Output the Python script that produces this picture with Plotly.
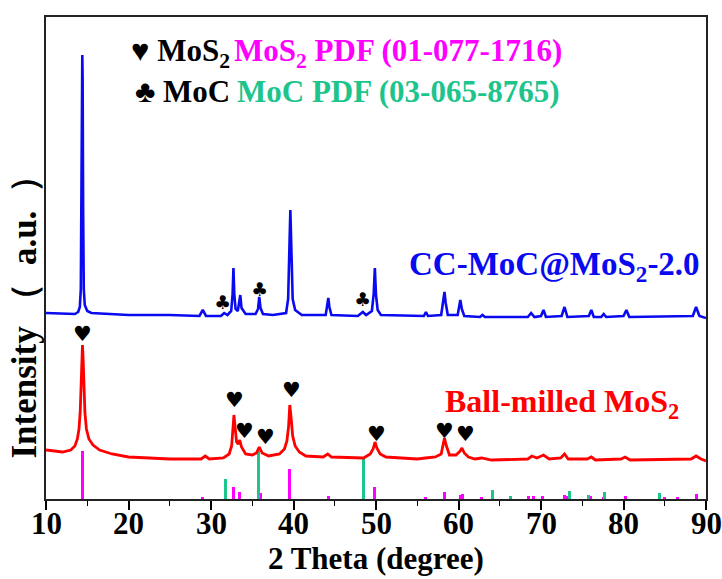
import plotly.graph_objects as go

# ---- XRD pattern of CC-MoC@MoS2-2.0 (2θ in degrees, intensity in a.u.) ----
cc_two_theta = [10.0, 12.0, 13.5, 13.9, 14.1, 14.22, 14.30, 14.36, 14.40, 14.44, 14.50, 14.58, 14.7, 15.0, 15.5,
                20.0, 25.0, 28.6, 29.0, 29.4, 31.2, 31.6, 32.0, 32.45, 32.62, 32.72, 32.82, 32.98, 33.25, 33.45,
                33.55, 33.7, 34.2, 35.4, 35.7, 35.85, 36.0, 36.3, 37.5, 39.1, 39.35, 39.5, 39.62, 39.74, 39.9,
                40.2, 41.0, 43.9, 44.12, 44.22, 44.35, 44.6, 47.8, 48.4, 48.8, 49.5, 49.72, 49.86, 50.0, 50.2,
                50.6, 55.8, 56.05, 56.3, 57.9, 58.18, 58.3, 58.45, 58.7, 59.9, 60.1, 60.22, 60.4, 60.7, 62.6,
                62.9, 63.2, 68.4, 68.8, 69.2, 70.0, 70.3, 70.6, 72.5, 72.85, 73.2, 75.8, 76.1, 76.4, 77.3,
                77.6, 77.9, 80.0, 80.35, 80.7, 88.4, 88.8, 89.2, 90.0]
cc_intensity = [186, 185, 185, 187, 192, 210, 300, 420, 444, 420, 290, 210, 194, 188, 186,
                184, 184, 183, 189, 183, 183, 186, 184, 188, 205, 231, 205, 190, 188, 198,
                204, 191, 185, 185, 190, 202, 191, 185, 184, 186, 200, 250, 289, 250, 200,
                189, 184, 184, 195, 201, 192, 184, 183, 187, 184, 188, 205, 231, 204, 189,
                184, 183, 187, 183, 184, 198, 207, 196, 184, 184, 193, 199, 190, 183, 182,
                184, 182, 182, 186, 182, 183, 189, 182, 183, 192, 182, 183, 189, 182, 182,
                185, 182, 183, 189, 182, 183, 192, 183, 181]

# ---- XRD pattern of ball-milled MoS2 ----
bm_two_theta = [10.0, 12.0, 13.0, 13.5, 13.8, 14.0, 14.15, 14.27, 14.36, 14.42, 14.5, 14.6, 14.72, 14.9, 15.2,
                15.7, 16.5, 18.0, 20.0, 25.0, 28.8, 29.3, 29.8, 31.5, 32.2, 32.5, 32.65, 32.78, 32.92, 33.1,
                33.3, 33.48, 33.7, 34.2, 35.0, 35.5, 35.85, 36.2, 37.0, 38.3, 38.9, 39.2, 39.4, 39.55, 39.7,
                39.9, 40.2, 40.7, 41.5, 43.6, 44.15, 44.6, 48.5, 49.3, 49.65, 49.88, 50.1, 50.5, 51.2, 55.0,
                56.0, 57.2, 57.9, 58.15, 58.3, 58.5, 58.9, 59.7, 60.2, 60.42, 60.7, 61.2, 62.0, 62.8, 64.0,
                68.4, 68.9, 69.5, 70.3, 71.0, 72.4, 72.85, 73.3, 75.6, 76.1, 76.6, 79.7, 80.2, 80.8, 88.2,
                88.8, 89.4, 90.0]
bm_intensity = [49, 47, 49, 53, 60, 70, 88, 118, 148, 154, 140, 110, 86, 70, 60,
                54, 49, 45, 42, 40, 40, 43, 40, 41, 45, 53, 66, 84, 72, 57,
                55, 59, 52, 45, 44, 46, 52, 46, 43, 45, 50, 58, 72, 94, 82,
                63, 53, 47, 43, 42, 45, 42, 41, 45, 50, 57, 51, 45, 42, 40,
                41, 42, 45, 55, 61, 54, 44, 44, 48, 51, 46, 42, 40, 41, 39,
                40, 43, 41, 44, 40, 41, 45, 40, 40, 42, 39, 40, 42, 39, 40,
                43, 40, 38]

# ---- Standard reference patterns (stick positions and relative heights) ----
mos2_pdf_theta = [14.4, 29.0, 32.7, 33.5, 36.0, 39.55, 44.2, 49.8, 56.0, 58.35, 60.2, 60.5, 62.8,
                  68.5, 69.1, 70.2, 72.8, 73.1, 76.0, 77.6, 80.2, 85.0, 86.6, 88.8]
mos2_pdf_int = [48, 2, 12, 7, 6, 30, 3, 12, 2, 7, 4, 5, 2, 3, 3, 3, 4, 3, 3, 2, 3, 2, 2, 5]
moc_pdf_theta = [31.7, 35.75, 48.45, 64.15, 66.3, 73.4, 75.7, 77.7, 84.4]
moc_pdf_int = [20, 48, 42, 9, 3, 8, 4, 7, 6]

# ---- Phase markers over indexed reflections ----
heart_theta = [14.4, 32.8, 34.1, 36.6, 39.8, 50.0, 58.3, 60.8]
heart_level = [165, 99, 68, 62, 109, 65, 68, 65]
club_theta = [31.4, 35.9, 48.4]
club_level = [197, 210, 200]

# ---- Axis ticks ----
x_ticks = [10, 20, 30, 40, 50, 60, 70, 80, 90]
x_minor_ticks = [15, 25, 35, 45, 55, 65, 75, 85]

SERIF = "Liberation Serif"
BLUE = "#0a0af0"
RED = "#ff0000"
MAGENTA = "#ff00ff"
GREEN = "#1dc48c"

fig = go.Figure()

fig.add_trace(go.Bar(x=mos2_pdf_theta, y=mos2_pdf_int, width=0.36,
                     marker=dict(color=MAGENTA, line=dict(width=0)), showlegend=False))
fig.add_trace(go.Bar(x=moc_pdf_theta, y=moc_pdf_int, width=0.36,
                     marker=dict(color=GREEN, line=dict(width=0)), showlegend=False))

fig.add_trace(go.Scatter(x=bm_two_theta, y=bm_intensity, mode="lines",
                         line=dict(color=RED, width=2.8), showlegend=False))
fig.add_trace(go.Scatter(x=cc_two_theta, y=cc_intensity, mode="lines",
                         line=dict(color=BLUE, width=2.6), showlegend=False))

annotations = []
for t, lv in zip(heart_theta, heart_level):
    annotations.append(dict(x=t, y=lv, text="♥", showarrow=False,
                            font=dict(family="DejaVu Sans", size=21, color="black")))
for t, lv in zip(club_theta, club_level):
    annotations.append(dict(x=t, y=lv, text="♣", showarrow=False,
                            font=dict(family="DejaVu Sans", size=19, color="black")))

label_font = dict(family=SERIF, size=33, weight="bold")
annotations += [
    dict(x=71.6, y=233, text="CC-MoC@MoS<sub>2</sub>-2.0", showarrow=False,
         font=dict(label_font, color=BLUE)),
    dict(x=72.6, y=96, text="Ball-milled MoS<sub>2</sub>", showarrow=False,
         font=dict(dict(label_font, size=32), color=RED)),
]

key_font = dict(family=SERIF, size=31, weight="bold")
annotations += [
    dict(x=20.1, y=446, xanchor="left", text="♥ MoS<sub>2</sub>", showarrow=False,
         font=dict(key_font, color="black")),
    dict(x=20.6, y=408, xanchor="left", text="♣ MoC", showarrow=False,
         font=dict(key_font, color="black")),
    dict(x=32.6, y=446, xanchor="left", text="MoS<sub>2</sub> PDF (01-077-1716)", showarrow=False,
         font=dict(key_font, color=MAGENTA)),
    dict(x=32.9, y=408, xanchor="left", text="MoC PDF (03-065-8765)", showarrow=False,
         font=dict(key_font, color=GREEN)),
]

# tick labels along the bottom axis
tick_font = dict(family=SERIF, size=31, weight="bold", color="black")
for v in x_ticks:
    annotations.append(dict(x=v, xref="x", y=0, yref="paper", yanchor="top", yshift=-5,
                            text=str(v), showarrow=False, font=tick_font))

# axis titles
annotations.append(dict(xref="paper", yref="paper", x=0.5, y=0, yanchor="top", yshift=-40,
                        text="2 Theta (degree)", showarrow=False,
                        font=dict(family=SERIF, size=31, weight="bold", color="black")))
annotations.append(dict(xref="paper", yref="paper", x=0, y=0.395, xshift=-21,
                        xanchor="center", yanchor="middle",
                        text="Intensity （ &nbsp;a.u.&nbsp; ）", textangle=-90, showarrow=False,
                        font=dict(family=SERIF, size=35, weight="bold", color="black")))

fig.update_layout(
    width=722, height=579,
    margin=dict(l=46, r=16, t=17, b=80),
    paper_bgcolor="white", plot_bgcolor="white",
    bargap=0,
    annotations=annotations,
    font=dict(family=SERIF, color="black"),
)

fig.update_xaxes(
    range=[10, 90], tickmode="array", tickvals=x_ticks, showticklabels=False,
    ticks="outside", ticklen=9, tickwidth=1.6, tickcolor="black",
    minor=dict(tickvals=x_minor_ticks, ticks="outside", ticklen=5,
               tickwidth=1.4, tickcolor="black"),
    showline=True, linecolor="#222", linewidth=1.8, mirror=True,
    showgrid=False, zeroline=False, automargin=False,
)
fig.update_yaxes(
    range=[0, 482], showticklabels=False, ticks="",
    showline=True, linecolor="#222", linewidth=1.8, mirror=True,
    showgrid=False, zeroline=False, automargin=False,
)

fig.write_html("out.html")
